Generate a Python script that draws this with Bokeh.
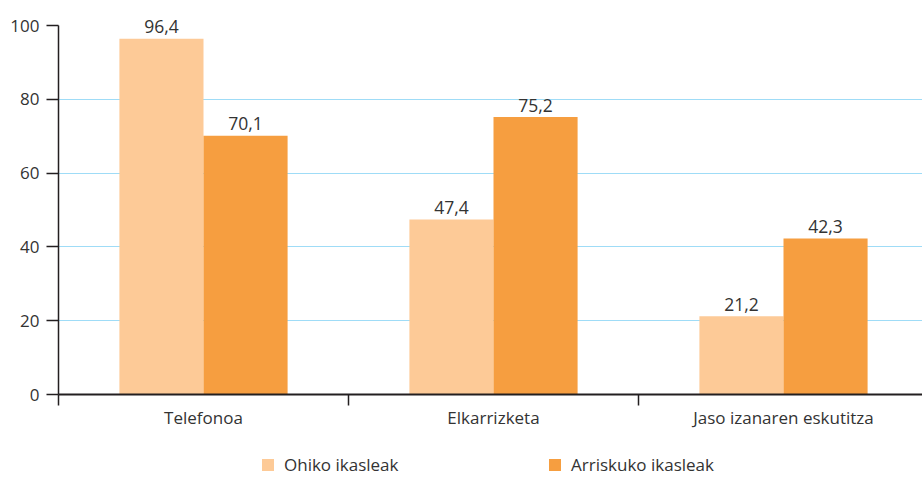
from bokeh.plotting import figure
from bokeh.layouts import column
from bokeh.models import ColumnDataSource, Range1d, FixedTicker, Legend, LegendItem
from bokeh.core.properties import value
from bokeh.embed import file_html
from bokeh.resources import INLINE

categories = ["Telefonoa", "Elkarrizketa", "Jaso izanaren eskutitza"]
ohiko = [96.4, 47.4, 21.2]
arrisku = [70.1, 75.2, 42.3]
series_names = ["Ohiko ikasleak", "Arriskuko ikasleak"]
y_ticks = [0, 20, 40, 60, 80, 100]

FONT = "Open Sans"
TXT = "#333333"
LIGHT = "#fdca97"
DARK = "#f69e40"
BW = 0.29

centers = [i + 0.5 for i in range(len(categories))]
fmt = lambda v: f"{v:.1f}".replace(".", ",")

src1 = ColumnDataSource(dict(x=[c - BW / 2 for c in centers], top=ohiko,
                             lab=[fmt(v) for v in ohiko]))
src2 = ColumnDataSource(dict(x=[c + BW / 2 for c in centers], top=arrisku,
                             lab=[fmt(v) for v in arrisku]))

W = 922
H1, H2 = 440, 37
LEFT, TOP, BOTTOM = 58, 5, 46
XSCALE = 290.0   # px per category
YSCALE = 3.69    # px per unit
frame_h = H1 - TOP - BOTTOM
p = figure(width=W, height=H1, x_range=Range1d(0, (W - LEFT) / XSCALE),
           y_range=Range1d(0, frame_h / YSCALE),
           output_backend="svg", toolbar_location=None,
           min_border_left=LEFT, min_border_right=0, min_border_top=TOP, min_border_bottom=BOTTOM)
p.outline_line_color = None
p.background_fill_color = "white"

r1 = p.vbar(x="x", top="top", width=BW, source=src1, fill_color=LIGHT, line_color=None)
r2 = p.vbar(x="x", top="top", width=BW, source=src2, fill_color=DARK, line_color=None)

for s in (src1, src2):
    p.text(x="x", y="top", text="lab", source=s, text_align="center",
           text_baseline="alphabetic", y_offset=-12, text_font=value(FONT),
           text_font_size="17.5px", text_color=TXT)

# axes
xa = p.xaxis[0]
xa.ticker = FixedTicker(ticks=centers, minor_ticks=[0, 1, 2, 3])
xa.major_label_overrides = {c: name for c, name in zip(centers, categories)}
xa.major_tick_out = 0
xa.major_tick_in = 0
xa.minor_tick_out = 11
xa.minor_tick_in = 0
xa.minor_tick_line_width = 1.5
xa.minor_tick_line_color = "#231f20"
xa.axis_line_width = 2
xa.axis_line_color = "#231f20"
xa.major_label_standoff = 0
xa.major_label_text_font = FONT
xa.major_label_text_font_size = "17px"
xa.major_label_text_color = TXT

ya = p.yaxis[0]
ya.ticker = FixedTicker(ticks=y_ticks, minor_ticks=[])
ya.bounds = (y_ticks[0], y_ticks[-1])
ya.major_tick_out = 12
ya.major_tick_in = 0
ya.major_tick_line_width = 1.5
ya.major_tick_line_color = "#231f20"
ya.axis_line_width = 1.5
ya.axis_line_color = "#231f20"
ya.major_label_standoff = 7
ya.major_label_text_font = FONT
ya.major_label_text_font_size = "17px"
ya.major_label_text_color = TXT

p.xgrid.visible = False
p.ygrid.ticker = FixedTicker(ticks=y_ticks[1:-1])
p.ygrid.grid_line_color = "#3fb9ee"
p.ygrid.grid_line_dash = "1 1"
p.ygrid.grid_line_width = 1

# legend strip below the chart (its frame is aligned with the chart's frame)
q = figure(width=W, height=H2, output_backend="svg", toolbar_location=None,
           x_range=Range1d(0, 1), y_range=Range1d(0, 1),
           x_axis_location=None, y_axis_location=None,
           min_border_left=LEFT, min_border_right=0, min_border_top=0, min_border_bottom=0)
q.outline_line_color = None
q.xgrid.visible = False
q.ygrid.visible = False
# legend keys: zero-height (invisible) bars that only carry the series colours
k1 = q.vbar(x=[0], top=[0], bottom=[0], width=0, fill_color=LIGHT, line_color=None)
k2 = q.vbar(x=[0], top=[0], bottom=[0], width=0, fill_color=DARK, line_color=None)
lg = Legend(items=[LegendItem(label=series_names[0], renderers=[k1]),
                   LegendItem(label=series_names[1], renderers=[k2])],
            location=(202, 1), orientation="horizontal", glyph_width=15, glyph_height=15,
            label_standoff=9, label_width=149, spacing=114, padding=0, margin=0,
            border_line_color=None, background_fill_alpha=0, label_text_font=FONT,
            label_text_font_size="17px", label_text_color=TXT, label_height=15)
q.add_layout(lg, "center")

open("out.html", "w").write(file_html(column(p, q, spacing=0), INLINE))
